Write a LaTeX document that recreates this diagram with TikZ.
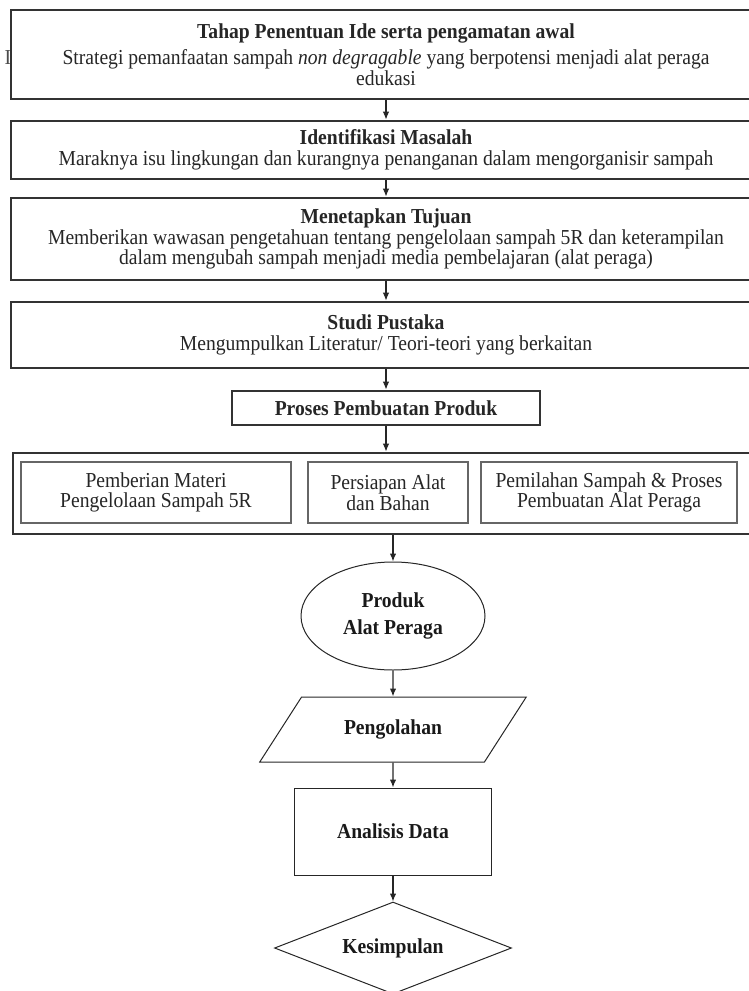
\documentclass[tikz,border=0pt]{standalone}
\usepackage{fontspec}
\setmainfont{Liberation Serif}[FakeStretch=0.92]
\usepackage{tikz}
\usetikzlibrary{arrows.meta, shapes.geometric}
\tikzset{>={Latex[length=8pt,width=6.5pt]}}
\tikzstyle{stage} = [draw=black!80, line width=2.6, fill=white, minimum width=750pt, align=center, inner sep=0, text=black!85, font=\fontsize{21.3}{20.5}\selectfont]
\tikzstyle{part} = [draw=black!60, line width=1.3, minimum height=61pt, align=center, inner sep=0, text=black!85, font=\fontsize{21.3}{20.5}\selectfont]
\tikzstyle{chart} = [draw=black!85, line width=1, align=center, inner sep=0, text=black!90, font=\bfseries\fontsize{21.3}{20.5}\selectfont]
\tikzstyle{flowline} = [->, line width=1.3, black!85]
\newcommand{\flow}[2]{
\draw[flowline] (#1) -- (#2);
}

\begin{document}
\begin{tikzpicture}[x=1pt, y=-1pt]
		\useasboundingbox (0,0) rectangle (749,991);
		\clip (0,0) rectangle (749,991);
		
		% Letter left over behind the first box
		\node[text=black!70, inner sep=0, font=\fontsize{21.3}{20.5}\selectfont] (sisa) at (8,58) {I};
		
		% Stages
		\node[stage, minimum height=89pt] (ide) at (386,54.5) {\textbf{Tahap Penentuan Ide serta pengamatan awal}\\[6pt]
			Strategi pemanfaatan sampah \textit{non degragable} yang berpotensi menjadi alat peraga\\ edukasi};
		\node[stage, minimum height=58pt] (masalah) at (386,150) {\textbf{Identifikasi Masalah}\\
			Maraknya isu lingkungan dan kurangnya penanganan dalam mengorganisir sampah};
		\node[stage, minimum height=82pt] (tujuan) at (386,239) {\textbf{Menetapkan Tujuan}\\
			Memberikan wawasan pengetahuan tentang pengelolaan sampah 5R dan keterampilan\\
			dalam mengubah sampah menjadi media pembelajaran (alat peraga)};
		\node[stage, minimum height=66pt] (pustaka) at (386,335) {\textbf{Studi Pustaka}\\
			Mengumpulkan Literatur/ Teori-teori yang berkaitan};
		\node[stage, minimum width=308pt, minimum height=34pt] (proses) at (386,408) {\textbf{Proses Pembuatan Produk}};
		
		% Frame with the three steps
		\node[stage, minimum width=746pt, minimum height=81pt] (kegiatan) at (386,493.5) {};
		\node[part, minimum width=270pt] (materi) at (156,492.5) {Pemberian Materi\\ Pengelolaan Sampah 5R};
		\node[part, minimum width=160pt] (persiapan) at (388,492.5) {Persiapan Alat\\ dan Bahan};
		\node[part, minimum width=256pt] (pemilahan) at (609,492.5) {Pemilahan Sampah \& Proses\\ Pembuatan Alat Peraga};
		
		% Flowchart shapes
		\node[chart, ellipse, minimum width=184pt, minimum height=108pt] (produk) at (393,616) {Produk\\[7pt] Alat Peraga};
		\node[chart, trapezium, trapezium left angle=41, trapezium right angle=139, trapezium stretches=true, minimum width=267pt, minimum height=65pt] (olah) at (393,729.5) {Pengolahan};
		\node[chart, minimum width=197pt, minimum height=87pt] (analisis) at (393,831.5) {Analisis Data};
		\node[chart, diamond, aspect=2.6, minimum width=237pt, minimum height=92pt] (simpulan) at (393,948) {Kesimpulan};
		
		% Arrows
		\flow{ide.south}{masalah.north}
		\flow{masalah.south}{tujuan.north}
		\flow{tujuan.south}{pustaka.north}
		\flow{pustaka.south}{proses.north}
		\flow{proses.south}{kegiatan.north}
		\flow{kegiatan.south -| produk.north}{produk.north}
		\flow{produk.south}{olah.north}
		\flow{olah.south}{analisis.north}
		\flow{analisis.south}{simpulan.north}
	\end{tikzpicture}
\end{document}
